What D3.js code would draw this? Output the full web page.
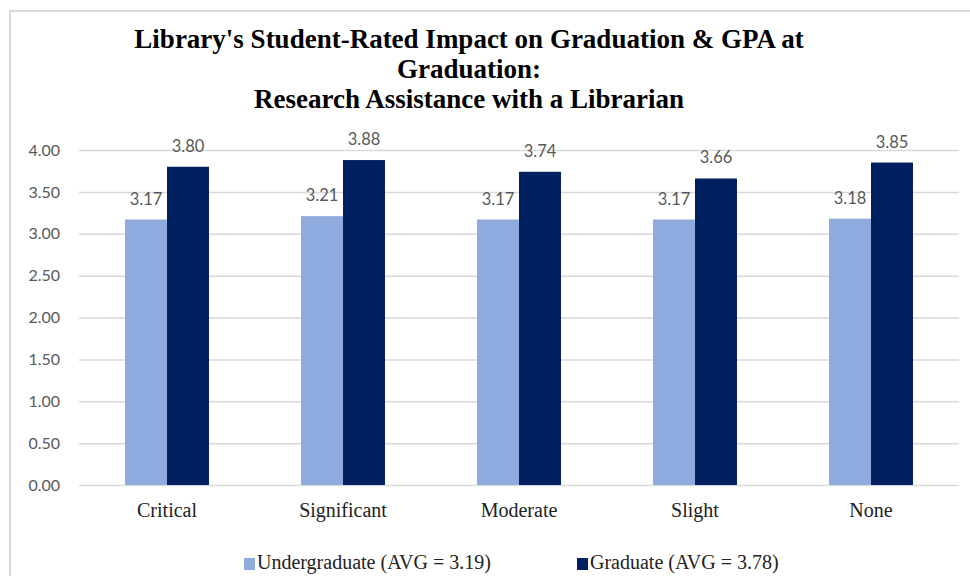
<!DOCTYPE html>
<html lang="en">
<head>
    <meta charset="utf-8">
    <title>Library's Student-Rated Impact on Graduation & GPA</title>
    <script src="https://d3js.org/d3.v7.min.js"></script>
    <style>
        html, body { margin: 0; padding: 0; background: #fff; }
        svg { display: block; }
    </style>
</head>
<body>
<div id="chart"></div>
<script>
    // data
    const categories = ["Critical", "Significant", "Moderate", "Slight", "None"];
    const undergrad = [3.17, 3.21, 3.17, 3.17, 3.18];
    const graduate = [3.80, 3.88, 3.74, 3.66, 3.85];
    const seriesNames = ["Undergraduate (AVG = 3.19)", "Graduate (AVG = 3.78)"];
    const yTicks = [0, 0.5, 1, 1.5, 2, 2.5, 3, 3.5, 4];
    const titleLines = [
        "Library's Student-Rated Impact on Graduation & GPA at",
        "Graduation:",
        "Research Assistance with a Librarian"
    ];

    const width = 970, height = 576;
    const margin = {top: 150, right: 11, bottom: 91, left: 79};
    const colors = ["#8faadc", "#002060"];
    const serif = "'Liberation Serif', 'Times New Roman', serif";
    const sans = "Lato, 'Noto Sans', sans-serif";

    const svg = d3.select("#chart").append("svg")
        .attr("width", width)
        .attr("height", height);

    // chart area border
    svg.append("rect")
        .attr("x", 10).attr("y", 11)
        .attr("width", width + 20).attr("height", height + 20)
        .attr("fill", "none")
        .attr("stroke", "#d9d9d9")
        .attr("stroke-width", 2);

    // title
    svg.append("text")
        .attr("text-anchor", "middle")
        .attr("font-family", serif)
        .attr("font-weight", "bold")
        .attr("font-size", 27)
        .attr("fill", "#000")
        .selectAll("tspan")
        .data(titleLines)
        .join("tspan")
        .attr("x", 469)
        .attr("y", (d, i) => 48 + i * 30)
        .text(d => d);

    const x0 = d3.scaleBand()
        .domain(categories)
        .range([margin.left, width - margin.right])
        .paddingInner(0.523)
        .paddingOuter(0.2615);

    const x1 = d3.scaleBand()
        .domain([0, 1])
        .range([0, x0.bandwidth()]);

    const y = d3.scaleLinear()
        .domain([0, 4])
        .range([height - margin.bottom, margin.top]);

    // gridlines + y labels
    const yAxis = g => g
        .attr("transform", `translate(${margin.left},0)`)
        .call(d3.axisLeft(y).tickValues(yTicks).tickFormat(d3.format(".2f"))
            .tickSize(-(width - margin.left - margin.right)).tickPadding(19))
        .call(g => g.select(".domain").remove())
        .call(g => g.selectAll(".tick line").attr("stroke", "#d9d9d9").attr("stroke-width", 1.5))
        .call(g => g.selectAll(".tick text")
            .attr("fill", "#595959")
            .attr("font-family", sans)
            .attr("font-size", 16));
    svg.append("g").call(yAxis);

    // category labels
    const xAxis = g => g
        .attr("transform", `translate(0,${height - margin.bottom})`)
        .call(d3.axisBottom(x0).tickSize(0).tickPadding(0))
        .call(g => g.select(".domain").remove())
        .call(g => g.selectAll(".tick text")
            .attr("dy", null)
            .attr("y", 32)
            .attr("fill", "#222")
            .attr("font-family", serif)
            .attr("font-size", 20));
    svg.append("g").call(xAxis);

    const rows = categories.map((c, i) => ({cat: c, values: [undergrad[i], graduate[i]]}));

    const groups = svg.append("g")
        .selectAll("g")
        .data(rows)
        .join("g")
        .attr("transform", d => `translate(${x0(d.cat)},0)`);

    groups.selectAll("rect")
        .data(d => d.values.map((v, k) => ({k, v})))
        .join("rect")
        .attr("x", d => x1(d.k))
        .attr("width", x1.bandwidth())
        .attr("y", d => y(d.v))
        .attr("height", d => y(0) - y(d.v))
        .attr("fill", d => colors[d.k]);

    groups.selectAll("text.val")
        .data(d => d.values.map((v, k) => ({k, v})))
        .join("text")
        .attr("class", "val")
        .attr("x", d => x1(d.k) + x1.bandwidth() / 2)
        .attr("y", d => y(d.v) - 15)
        .attr("text-anchor", "middle")
        .attr("fill", "#595959")
        .attr("font-family", sans)
        .attr("font-size", 16.5)
        .text(d => d.v.toFixed(2));

    // legend
    const legendX = [244, 577];
    const legend = svg.append("g")
        .selectAll("g")
        .data(seriesNames)
        .join("g")
        .attr("transform", (d, i) => `translate(${legendX[i]},558)`);
    legend.append("rect")
        .attr("width", 11).attr("height", 12)
        .attr("fill", (d, i) => colors[i]);
    legend.append("text")
        .attr("x", 13)
        .attr("y", 11)
        .attr("fill", "#222")
        .attr("font-family", serif)
        .attr("font-size", 20)
        .text(d => d);
</script>
</body>
</html>
